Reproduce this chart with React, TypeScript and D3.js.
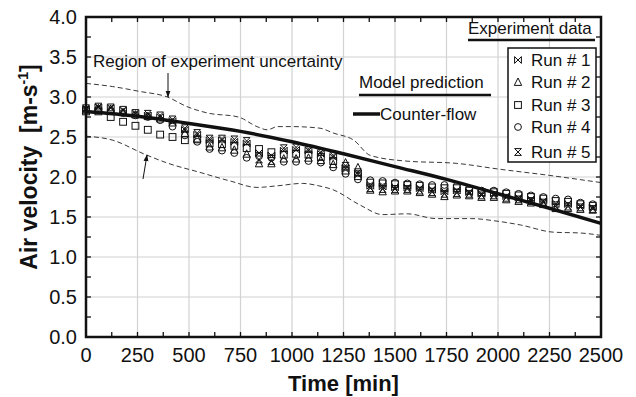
import React from "react";
import * as d3 from "d3";

const times = [0, 60, 120, 180, 240, 300, 360, 420, 480, 540, 600, 660, 720, 780, 840, 900, 960, 1020, 1080, 1140, 1200, 1260, 1320, 1380, 1440, 1500, 1560, 1620, 1680, 1740, 1800, 1860, 1920, 1980, 2040, 2100, 2160, 2220, 2280, 2340, 2400, 2460];

const run1 = [2.85, 2.87, 2.86, 2.83, 2.79, 2.77, 2.75, 2.70, 2.59, 2.53, 2.46, 2.46, 2.44, 2.42, 2.30, 2.27, 2.33, 2.34, 2.33, 2.29, 2.25, 2.11, 2.04, 1.89, 1.88, 1.87, 1.87, 1.86, 1.84, 1.82, 1.83, 1.81, 1.79, 1.79, 1.76, 1.74, 1.72, 1.70, 1.66, 1.66, 1.64, 1.62];
const run2 = [2.84, 2.86, 2.85, 2.81, 2.78, 2.76, 2.73, 2.68, 2.55, 2.48, 2.38, 2.37, 2.34, 2.29, 2.17, 2.17, 2.23, 2.23, 2.24, 2.21, 2.16, 2.18, 2.12, 1.84, 1.82, 1.83, 1.83, 1.81, 1.79, 1.76, 1.78, 1.77, 1.75, 1.75, 1.72, 1.70, 1.68, 1.66, 1.61, 1.61, 1.60, 1.59];
const run3 = [2.82, 2.82, 2.75, 2.69, 2.64, 2.59, 2.53, 2.50, 2.46, 2.47, 2.42, 2.41, 2.39, 2.36, 2.35, 2.31, 2.28, 2.29, 2.28, 2.25, 2.20, 2.08, 2.01, 1.93, 1.92, 1.91, 1.90, 1.89, 1.87, 1.86, 1.86, 1.83, 1.81, 1.81, 1.79, 1.77, 1.75, 1.73, 1.70, 1.69, 1.66, 1.64];
const run4 = [2.84, 2.85, 2.83, 2.80, 2.77, 2.75, 2.71, 2.63, 2.52, 2.44, 2.35, 2.33, 2.30, 2.24, 2.26, 2.24, 2.19, 2.19, 2.20, 2.18, 2.12, 2.04, 1.97, 1.96, 1.95, 1.93, 1.92, 1.91, 1.90, 1.90, 1.89, 1.85, 1.83, 1.83, 1.81, 1.79, 1.77, 1.75, 1.73, 1.72, 1.68, 1.66];
const run5 = [2.86, 2.88, 2.87, 2.84, 2.80, 2.79, 2.77, 2.72, 2.61, 2.55, 2.48, 2.48, 2.47, 2.45, 2.22, 2.20, 2.36, 2.37, 2.35, 2.31, 2.27, 2.14, 2.06, 1.86, 1.85, 1.85, 1.85, 1.83, 1.81, 1.79, 1.80, 1.79, 1.77, 1.77, 1.74, 1.72, 1.70, 1.68, 1.63, 1.63, 1.62, 1.60];

const modelT = [0, 250, 500, 750, 1000, 1250, 1500, 1750, 2000, 2250, 2500];
const modelV = [2.82, 2.76, 2.67, 2.57, 2.44, 2.29, 2.13, 1.97, 1.79, 1.61, 1.42];

const upperT = [0, 130, 260, 395, 490, 590, 740, 830, 880, 930, 1000, 1136, 1200, 1300, 1380, 1550, 1800, 2000, 2250, 2500];
const upperV = [3.17, 3.13, 3.07, 3.0, 2.88, 2.80, 2.75, 2.63, 2.59, 2.63, 2.63, 2.61, 2.55, 2.46, 2.27, 2.20, 2.17, 2.10, 2.02, 1.93];

const lowerT = [0, 130, 280, 400, 550, 700, 830, 930, 1050, 1130, 1200, 1330, 1440, 1560, 1700, 1870, 1990, 2110, 2270, 2400, 2500];
const lowerV = [2.51, 2.46, 2.29, 2.17, 2.06, 1.95, 1.87, 1.89, 1.92, 1.89, 1.84, 1.65, 1.53, 1.54, 1.48, 1.48, 1.45, 1.40, 1.31, 1.30, 1.27];

const xTickLabels = ["0", "250", "500", "750", "1000", "1250", "1500", "1750", "2000", "2250", "2500"];
const yTickLabels = ["0.0", "0.5", "1.0", "1.5", "2.0", "2.5", "3.0", "3.5", "4.0"];
const runNames = ["Run # 1", "Run # 2", "Run # 3", "Run # 4", "Run # 5"];
const runSymbols = ["bowtie", "triangle", "square", "circle", "hourglass"];

const W = 636, H = 397;
const M = { left: 86, right: 601, top: 17, bottom: 337 };
const FONT = "'Liberation Sans', Arial, sans-serif";

function Marker({ type, x, y }: { type: string; x: number; y: number }) {
  const s = 3.4;
  const common = { fill: "none", stroke: "#111", strokeWidth: 1 } as any;
  if (type === "circle") return <circle cx={x} cy={y} r={s} {...common} />;
  if (type === "square") return <rect x={x - s} y={y - s} width={2 * s} height={2 * s} {...common} />;
  if (type === "triangle")
    return <path d={`M${x},${y - s - 0.6}L${x + s + 0.3},${y + s}L${x - s - 0.3},${y + s}Z`} {...common} />;
  if (type === "bowtie")
    return <path d={`M${x - s},${y - s}L${x + s},${y + s}L${x + s},${y - s}L${x - s},${y + s}Z`} {...common} />;
  return <path d={`M${x - s},${y - s}L${x + s},${y - s}L${x - s},${y + s}L${x + s},${y + s}Z`} {...common} />;
}

export default function App() {
  const x = d3.scaleLinear().domain([0, 2500]).range([M.left, M.right]);
  const y = d3.scaleLinear().domain([0, 4]).range([M.bottom, M.top]);
  const runs = [run1, run2, run3, run4, run5];

  const xMajor = xTickLabels.map(Number);
  const yMajor = yTickLabels.map(Number);
  const xMinor = d3.range(0, 2500.1, 125);
  const yMinor = d3.range(0, 4.001, 0.25);

  const lineGen = d3.line<[number, number]>().x(d => x(d[0])).y(d => y(d[1])).curve(d3.curveMonotoneX);
  const model = lineGen(modelT.map((t, i) => [t, modelV[i]]))!;
  const upper = lineGen(upperT.map((t, i) => [t, upperV[i]]))!;
  const lower = lineGen(lowerT.map((t, i) => [t, lowerV[i]]))!;

  const legendY = [60, 82, 105, 127, 152];
  const tl = 5;

  return (
    <svg width={W} height={H} style={{ position: "absolute", left: 0, top: 0, background: "#fff" }} fontFamily={FONT}>
      <defs>
        <marker id="ah" viewBox="0 0 10 10" refX="9" refY="5" markerWidth="7" markerHeight="9" orient="auto">
          <path d="M0,1.5L10,5L0,8.5Z" fill="#111" />
        </marker>
      </defs>
      <rect width={W} height={H} fill="#fff" />
      {xMajor.map(v => (
        <line key={"gx" + v} x1={x(v)} x2={x(v)} y1={M.top} y2={M.bottom} stroke="#d2d2d2" strokeWidth={1.2} />
      ))}
      {yMajor.map(v => (
        <line key={"gy" + v} x1={M.left} x2={M.right} y1={y(v)} y2={y(v)} stroke="#d2d2d2" strokeWidth={1.2} />
      ))}
      {xMinor.map(v => (
        <g key={"tx" + v}>
          <line x1={x(v)} x2={x(v)} y1={M.bottom} y2={M.bottom - tl} stroke="#111" strokeWidth={1.3} />
          <line x1={x(v)} x2={x(v)} y1={M.top} y2={M.top + tl} stroke="#111" strokeWidth={1.3} />
        </g>
      ))}
      {yMinor.map(v => (
        <g key={"ty" + v}>
          <line x1={M.left} x2={M.left + tl} y1={y(v)} y2={y(v)} stroke="#111" strokeWidth={1.3} />
          <line x1={M.right} x2={M.right - tl} y1={y(v)} y2={y(v)} stroke="#111" strokeWidth={1.3} />
        </g>
      ))}
      <path d={upper} fill="none" stroke="#222" strokeWidth={0.9} strokeDasharray="5,3" />
      <path d={lower} fill="none" stroke="#222" strokeWidth={0.9} strokeDasharray="5,3" />
      {runs.map((r, ri) =>
        r.map((v, i) => <Marker key={ri + "-" + i} type={runSymbols[ri]} x={x(times[i])} y={y(v)} />)
      )}
      <path d={model} fill="none" stroke="#111" strokeWidth={3.5} />
      <rect x={M.left} y={M.top} width={M.right - M.left} height={M.bottom - M.top} fill="none" stroke="#111" strokeWidth={2.5} />
      {xTickLabels.map((l, i) => (
        <text key={"xl" + l} x={x(xMajor[i])} y={M.bottom + 25} fontSize={20} textAnchor="middle" fill="#111">{l}</text>
      ))}
      {yTickLabels.map((l, i) => (
        <text key={"yl" + l} x={M.left - 9} y={y(yMajor[i]) + 7} fontSize={20} textAnchor="end" fill="#111">{l}</text>
      ))}
      <text x={(M.left + M.right) / 2} y={391} fontSize={22} fontWeight="bold" textAnchor="middle" fill="#111">Time [min]</text>
      <text transform={`translate(37,167) rotate(-90)`} fontSize={23} fontWeight="bold" textAnchor="middle" fill="#111" style={{ whiteSpace: "pre" }}>
        {"Air velocity  [m-s"}<tspan dy={-9} fontSize={14}>-1</tspan><tspan dy={9}>]</tspan>
      </text>
      <text x={93} y={67} fontSize={17} fill="#111">Region of experiment uncertainty</text>
      <line x1={168} y1={73} x2={168} y2={97} stroke="#111" strokeWidth={1} markerEnd="url(#ah)" />
      <line x1={143} y1={179} x2={147} y2={155} stroke="#111" strokeWidth={1} markerEnd="url(#ah)" />
      <text x={359} y={88} fontSize={17} fill="#111">Model prediction</text>
      <line x1={359} x2={491} y1={95} y2={95} stroke="#111" strokeWidth={2.5} />
      <line x1={353} x2={380} y1={114} y2={114} stroke="#111" strokeWidth={3.5} />
      <text x={380} y={120} fontSize={17} fill="#111">Counter-flow</text>
      <text x={468} y={34} fontSize={17} fill="#111">Experiment data</text>
      <line x1={468} x2={595} y1={40} y2={40} stroke="#111" strokeWidth={2.5} />
      <rect x={508} y={48} width={88} height={114} fill="#fff" stroke="#111" strokeWidth={1.5} />
      {runNames.map((n, i) => (
        <g key={n}>
          <Marker type={runSymbols[i]} x={518} y={legendY[i]} />
          <text x={531} y={legendY[i] + 6} fontSize={17} fill="#111">{n}</text>
        </g>
      ))}
    </svg>
  );
}
